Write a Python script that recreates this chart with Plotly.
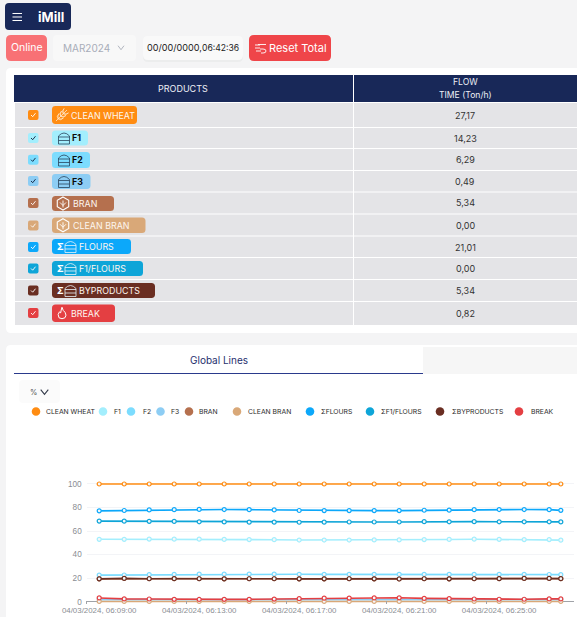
import plotly.graph_objects as go

W, H = 577, 617

# ---------- data ----------
products = ["CLEAN WHEAT", "F1", "F2", "F3", "BRAN", "CLEAN BRAN", "FLOURS", "F1/FLOURS", "BYPRODUCTS", "BREAK"]
flow = ["27,17", "14,23", "6,29", "0,49", "5,34", "0,00", "21,01", "0,00", "5,34", "0,82"]
legend_names = ["CLEAN WHEAT", "F1", "F2", "F3", "BRAN", "CLEAN BRAN", "ΣFLOURS", "ΣF1/FLOURS", "ΣBYPRODUCTS", "BREAK"]

times = ["06:09:00", "06:10:00", "06:11:00", "06:12:00", "06:13:00", "06:14:00", "06:15:00",
         "06:16:00", "06:17:00", "06:18:00", "06:19:00", "06:20:00", "06:21:00", "06:22:00",
         "06:23:00", "06:24:00", "06:25:00", "06:26:00", "06:27:00", "06:27:28"]
tick_times = ["06:09:00", "06:13:00", "06:17:00", "06:21:00", "06:25:00"]
tick_marks = ["06:08:30", "06:12:30", "06:16:30", "06:20:30", "06:24:30"]

clean_wheat = [100] * 20
f1 = [53, 53, 53.2, 53.1, 53.1, 52.9, 52.8, 52.7, 52.4, 52.4, 52.4, 52.5, 52.5, 52.8, 52.9, 53.1, 53, 52.8, 52.8, 52.3]
f2 = [22.6, 22.7, 23, 23.2, 23.4, 23.4, 23.5, 23.4, 23.3, 23.2, 23.2, 23.2, 23.2, 23.2, 23.2, 23.2, 23.3, 23.2, 23.1, 23]
f3 = [1.8, 1.8, 1.8, 1.8, 1.7, 1.8, 1.8, 1.8, 1.8, 1.8, 1.8, 1.8, 1.8, 1.8, 1.8, 1.8, 1.8, 1.8, 1.8, 1.8]
bran_values = [19.4, 19.7, 19.5, 19.6, 19.5, 19.4, 19.5, 19.5, 19.4, 19.4, 19.5, 19.4, 19.3, 19.5, 19.4, 19.5, 19.6, 19.7, 19.7, 19.6]
clean_bran = [0.2] * 20
flours = [77.2, 77.5, 78, 78.2, 78.4, 78.3, 78.2, 78, 77.5, 77.4, 77.4, 77.4, 77.4, 77.7, 77.8, 78.2, 78.3, 78.3, 78.2, 77.6]
f1_flours = [68.5, 68.4, 68.3, 68.2, 67.9, 67.8, 67.6, 67.6, 67.5, 67.6, 67.7, 67.7, 67.7, 68, 67.9, 68, 67.9, 67.9, 67.9, 67.8]
byproducts = [19.4, 19.8, 19.5, 19.6, 19.5, 19.4, 19.5, 19.5, 19.4, 19.4, 19.5, 19.4, 19.3, 19.5, 19.4, 19.5, 19.6, 19.8, 19.8, 19.6]
break_ = [3.2, 2.4, 2.3, 2, 1.9, 2, 2, 2.2, 2.6, 3, 3.1, 3.2, 3.3, 2.8, 2.6, 2.3, 2.1, 2.1, 2.4, 2.4]

# ---------- styles ----------
colors = ["#ff8c12", "#a3eefd", "#7cdcfe", "#8dcdf4", "#b5704e", "#d9a878", "#0ca8fa", "#0ea5d8", "#6a2e22", "#e43f42"]
NAVY = "#182858"
ROW = "#e4e4e7"
UI = "Inter, 'Liberation Sans', sans-serif"
AX = "'Liberation Sans', Arial, sans-serif"

row_tops = [103, 128, 149, 171, 192.5, 214.5, 236.5, 258, 280, 302]
row_bots = [127, 148, 170, 191.5, 213.5, 235.5, 257, 279, 301, 325]
row_cy = [115, 138, 159.7, 181, 203, 225.5, 247, 268.5, 290.5, 313]
pill_right = [137, 88, 90, 90.5, 114, 145.5, 131, 143, 155, 115]
pill_top = [106, 130.5, 152, 174, 196, 217.5, 239, 261, 283, 304.5]
pill_bot = [124, 145.5, 168, 189, 211, 233, 254, 276, 298, 322]
text_x = [69.5, 71, 71, 71, 72, 72, 78, 78, 78, 69.5]
icon_kind = ["wheat", "silo", "silo", "silo", "bran", "bran", "ssilo", "ssilo", "ssilo", "flame"]
leg_dot_x = [36, 103, 131, 160.5, 189, 237, 310, 370, 440, 519]
leg_txt_x = [44.5, 112.6, 141.7, 170, 197.6, 247, 319.5, 380, 450.5, 530]

shapes, annotations = [], []


def X(v):
    return v / W


def Y(v):
    return 1 - v / H


def P(x, y):
    return f"{X(x):.5f},{Y(y):.5f}"


def add_path(d, fill=None, stroke=None, lw=0, layer="above"):
    s = dict(type="path", xref="paper", yref="paper", path=d, layer=layer,
             line=dict(color=stroke or "rgba(0,0,0,0)", width=lw))
    if fill:
        s["fillcolor"] = fill
    shapes.append(s)


def rr(x0, y0, x1, y1, r, fill, stroke=None, lw=0, layer="below"):
    d = (f"M{P(x0 + r, y0)} L{P(x1 - r, y0)} Q{P(x1, y0)} {P(x1, y0 + r)} L{P(x1, y1 - r)} "
         f"Q{P(x1, y1)} {P(x1 - r, y1)} L{P(x0 + r, y1)} Q{P(x0, y1)} {P(x0, y1 - r)} "
         f"L{P(x0, y0 + r)} Q{P(x0, y0)} {P(x0 + r, y0)} Z")
    add_path(d, fill, stroke, lw, layer)


def poly(points, stroke, lw=1, close=False):
    d = "M" + " L".join(P(a, b) for a, b in points) + (" Z" if close else "")
    add_path(d, None, stroke, lw)


def circle(cx, cy, r, fill=None, stroke=None, lw=0):
    shapes.append(dict(type="circle", xref="paper", yref="paper", layer="above",
                       x0=X(cx - r), x1=X(cx + r), y0=Y(cy + r), y1=Y(cy - r),
                       fillcolor=fill or "rgba(0,0,0,0)",
                       line=dict(color=stroke or "rgba(0,0,0,0)", width=lw)))


def text(x, y, s, size, color, anchor="left", font=UI, bold=False):
    annotations.append(dict(x=X(x), y=Y(y), xref="paper", yref="paper", text=f"<b>{s}</b>" if bold else s,
                            showarrow=False, xanchor=anchor, yanchor="middle", borderpad=0,
                            font=dict(size=size, color=color, family=font)))


def chevron(cx, cy, w, h, color, lw=1):
    poly([(cx - w, cy - h), (cx, cy + h), (cx + w, cy - h)], color, lw)


def icon_silo(x, cy, color):
    d = (f"M{P(x, cy + 6)} L{P(x, cy - 2)} Q{P(x + 5.5, cy - 8)} {P(x + 11, cy - 2)} L{P(x + 11, cy + 6)} Z "
         f"M{P(x, cy - 1)} L{P(x + 11, cy - 1)} M{P(x, cy + 2.5)} L{P(x + 11, cy + 2.5)}")
    add_path(d, None, color, 0.8)


def icon_wheat(cx, cy, color):
    for t in (-4.5, -1.5, 1.5):
        for sgn in (-1, 1):
            a = cx + t * 0.85
            b = cy - t * 0.85
            ox, oy = 2.2 * sgn, 2.2 * sgn
            d = (f"M{P(a, b)} Q{P(a + ox + 1.5, b + oy - 1.5)} {P(a + ox + 3, b + oy - 3)} "
                 f"Q{P(a + ox, b + oy)} {P(a, b)} Z")
            add_path(d, None, color, 0.7)
    poly([(cx - 6, cy + 6), (cx + 5, cy - 5)], color, 0.8)


def icon_bran(cx, cy, color):
    r = 6.5
    pts = [(cx, cy - r), (cx + r * .88, cy - r / 2), (cx + r * .88, cy + r / 2),
           (cx, cy + r), (cx - r * .88, cy + r / 2), (cx - r * .88, cy - r / 2)]
    poly(pts, color, 1.1, True)
    poly([(cx, cy - 3), (cx, cy + 4)], color, 0.9)
    poly([(cx - 3, cy - 1), (cx, cy + 2), (cx + 3, cy - 1)], color, 0.9)


def icon_flame(cx, cy, color):
    d = (f"M{P(cx, cy - 6)} Q{P(cx + 1, cy - 2)} {P(cx + 3, cy - 1)} Q{P(cx + 5, cy + 2)} {P(cx + 3, cy + 4.5)} "
         f"Q{P(cx, cy + 6.5)} {P(cx - 3, cy + 4.5)} Q{P(cx - 5, cy + 1)} {P(cx - 2.5, cy - 1.5)} "
         f"Q{P(cx - 2, cy - 0.5)} {P(cx - 1.3, cy - 0.5)} Q{P(cx - 1, cy - 3)} {P(cx, cy - 6)} Z")
    add_path(d, None, color, 1)


# ---------- page ----------
add_path(f"M{P(0, 0)} L{P(W, 0)} L{P(W, H)} L{P(0, H)} Z", "#f4f4f5", layer="below")

# top bar
rr(5, 3, 71, 30, 4, NAVY)
for yy in (13.5, 17, 20.5):
    poly([(12.5, yy), (22, yy)], "#ffffff", 1)
text(37, 17, "iMill", 13, "#ffffff", bold=True)

rr(6, 35, 47, 61, 5, "#f87175")
text(26.5, 48, "Online", 10.5, "#ffffff", "center")
rr(53, 35, 136, 61, 4, "#f8f8f8")
text(62, 48, "MAR2024", 10, "#a8adb8")
chevron(121, 47.7, 3, 2, "#a8adb8", 0.9)
rr(143, 39, 243, 62, 5, "#eceded")
rr(143, 36, 243, 60, 5, "#f9f9f9")
text(146, 48, "00/00/0000,", 9.1, "#1c1c1c")
text(201, 48, "06:42:36", 8.6, "#1c1c1c")
rr(249, 35, 331, 61, 5, "#ef4549")
for yy, a in ((45, 255), (48, 255), (51, 256)):
    poly([(a, yy), (a + 5, yy)], "#ffffff", 0.9)
poly([(258, 44.5), (266, 44.5)], "#ffffff", 0.9)
d = f"M{P(260, 49)} L{P(263, 49)} Q{P(266, 49)} {P(266, 51)} Q{P(266, 53)} {P(263, 53)} L{P(261, 53)}"
add_path(d, None, "#ffffff", 0.9)
text(268, 48, "Reset Total", 11, "#ffffff")

# table card
rr(6, 68, 590, 333, 5, "#ffffff")
add_path(f"M{P(14, 75)} L{P(353, 75)} L{P(353, 102)} L{P(14, 102)} Z", NAVY, layer="below")
add_path(f"M{P(354, 75)} L{P(W, 75)} L{P(W, 102)} L{P(354, 102)} Z", NAVY, layer="below")
text(183, 88.5, "PRODUCTS", 9, "#eef0f6", "center")
text(465, 81.5, "FLOW", 8.6, "#eef0f6", "center")
text(465, 95, "TIME (Ton/h)", 8.6, "#eef0f6", "center")

for i, name in enumerate(products):
    c = colors[i]
    add_path(f"M{P(15, row_tops[i])} L{P(353, row_tops[i])} L{P(353, row_bots[i])} L{P(15, row_bots[i])} Z", ROW, layer="below")
    add_path(f"M{P(354, row_tops[i])} L{P(W, row_tops[i])} L{P(W, row_bots[i])} L{P(354, row_bots[i])} Z", ROW, layer="below")
    cy = row_cy[i]
    dark_mark = i in (1, 2, 3)
    rr(28, cy - 5, 38.5, cy + 5, 2, c)
    ck = "#10203c" if dark_mark else "#ffffff"
    poly([(31, cy), (32.7, cy + 1.7), (35.5, cy - 1.8)], ck, 0.9)
    rr(52, pill_top[i], pill_right[i], pill_bot[i], 3.5, c)
    pc = (pill_top[i] + pill_bot[i]) / 2
    kind = icon_kind[i]
    if kind == "wheat":
        icon_wheat(62, pc, "#ffe9d0")
    elif kind == "silo":
        icon_silo(58.5, pc, "#28435a")
    elif kind == "bran":
        icon_bran(63, pc, "#ffffff")
    elif kind == "ssilo":
        text(56, pc - 0.5, "Σ", 9.5, "#ffffff", bold=True)
        icon_silo(65, pc, "#e8f4fa")
    else:
        icon_flame(62, pc, "#ffffff")
    if dark_mark:
        text(text_x[i], pc - 0.5, name, 8.8, "#0b0b0b", bold=True)
    else:
        text(text_x[i], pc, name, 8.9, "#fdf6ef")
    text(465, cy, flow[i], 9, "#333333", "center")

# chart card
rr(6, 345, 600, 640, 5, "#ffffff")
add_path(f"M{P(423, 347)} L{P(W, 347)} L{P(W, 374)} L{P(423, 374)} Z", "#f6f6f6", layer="below")
poly([(14, 373.5), (423, 373.5)], "#2a3a8c", 1)
text(218.5, 360, "Global Lines", 10, "#1f2f6e", "center")
rr(19, 380, 60, 403, 4, "#fbfbfb")
text(29, 392, "%", 7.5, "#555555")
chevron(44.5, 392, 3.8, 2.3, "#333a4a", 1.1)

for i, name in enumerate(legend_names):
    circle(leg_dot_x[i], 411.5, 4.3, colors[i])
    text(leg_txt_x[i], 411, name, 6.8, "#2a2a2a")

# ---------- chart ----------
series = [clean_wheat, f1, f2, f3, bran_values, clean_bran, flours, f1_flours, byproducts, break_]
day = "2024-03-04 "
fig = go.Figure()
for i, vals in enumerate(series):
    fig.add_trace(go.Scatter(
        x=[day + t for t in times], y=vals, mode="lines+markers", name=legend_names[i],
        line=dict(color=colors[i], width=1.6), cliponaxis=False,
        marker=dict(size=4, color="#f4f8fb", line=dict(color=colors[i], width=1.2))))

UNIT = 1.177  # pixels per percent
Y_LOW, Y_HIGH = -2, 102

fig.update_layout(
    width=W, height=H, autosize=False, margin=dict(l=0, r=0, t=0, b=0, pad=0),
    showlegend=False, paper_bgcolor="#ffffff", plot_bgcolor="rgba(0,0,0,0)",
    shapes=shapes, annotations=annotations,
    xaxis=dict(type="date", automargin=False, domain=[86.7 / W, 574 / W],
               range=[day + "06:08:30", day + "06:27:59.6"],
               tickmode="array", tickvals=[day + t for t in tick_times], tickformat="%d/%m/%Y, %H:%M:%S",
               ticks="", showgrid=False, showline=False, zeroline=False,
               tickfont=dict(size=7.9, color="#8a8d93", family=AX), ticklabelstandoff=0,
               minor=dict(tickmode="array", tickvals=[day + t for t in tick_marks], ticks="inside",
                          ticklen=3, tickcolor="#a0a3a8", tickwidth=1, showgrid=False)),
    yaxis=dict(automargin=False,
               domain=[1 - (601.7 - Y_LOW * UNIT) / H, 1 - (601.7 - Y_HIGH * UNIT) / H],
               range=[Y_LOW, Y_HIGH], tickvals=[0, 20, 40, 60, 80, 100],
               showline=False, zeroline=True, zerolinecolor="#a0a3a8", zerolinewidth=1,
               showgrid=True, gridcolor="#f3f4f7", gridwidth=1, ticks="",
               tickfont=dict(size=8.2, color="#8a8d93", family=AX), ticklabelstandoff=4),
)

fig.write_html("out.html", config=dict(displayModeBar=False),
               post_script="document.body.style.margin='0';")
